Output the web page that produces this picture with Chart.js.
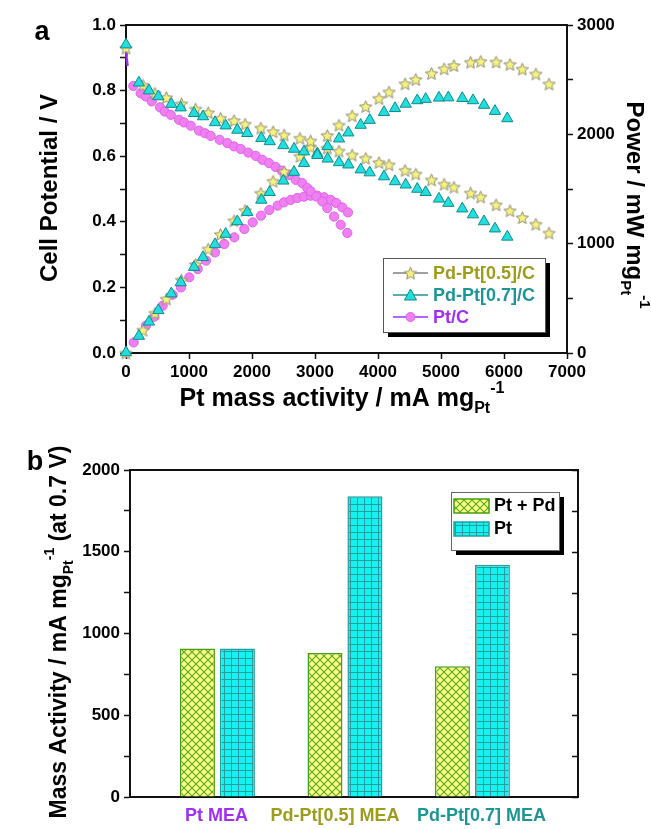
<!DOCTYPE html>
<html>
<head>
<meta charset="utf-8">
<script src="https://cdn.jsdelivr.net/npm/chart.js@4.4.0/dist/chart.umd.min.js"></script>
<style>
  body { margin: 0; background: #fff; }
  #wrap { position: relative; width: 651px; height: 829px; }
  #chartA { position: absolute; left: 0; top: 0; }
  #chartB { position: absolute; left: 0; top: 420px; }
</style>
</head>
<body>
<div id="wrap">
  <canvas id="chartA" width="651" height="420"></canvas>
  <canvas id="chartB" width="651" height="409"></canvas>
</div>
<script>
// ---- panel a : polarization + power curves ----
const seriesNames = ['Pd-Pt[0.5]/C', 'Pd-Pt[0.7]/C', 'Pt/C'];

const pd05Current = [0, 270, 460, 640, 880, 1105, 1305, 1500, 1715, 1890, 2140, 2335, 2510, 2760, 2930, 3195, 3380, 3590, 3805, 4015, 4175, 4430, 4600, 4850, 5050, 5205, 5470, 5630, 5875, 6095, 6290, 6505, 6715];
const pd05Potential = [0.93, 0.817, 0.792, 0.779, 0.760, 0.744, 0.733, 0.716, 0.709, 0.698, 0.686, 0.675, 0.665, 0.655, 0.647, 0.625, 0.616, 0.604, 0.594, 0.581, 0.574, 0.557, 0.546, 0.528, 0.515, 0.506, 0.488, 0.476, 0.452, 0.434, 0.413, 0.393, 0.366];
const pd05Power = [0, 210, 365, 495, 668, 810, 952, 1085, 1210, 1305, 1462, 1572, 1660, 1800, 1885, 1990, 2085, 2170, 2255, 2330, 2388, 2463, 2503, 2558, 2600, 2630, 2660, 2668, 2662, 2641, 2598, 2553, 2461];

const pd07Current = [0, 205, 365, 513, 719, 868, 1079, 1222, 1413, 1582, 1767, 1925, 2148, 2281, 2497, 2667, 2825, 3037, 3200, 3381, 3529, 3725, 3868, 4095, 4270, 4440, 4624, 4757, 4968, 5116, 5338, 5508, 5683, 5857, 6052];
const pd07Potential = [0.94, 0.824, 0.800, 0.782, 0.759, 0.748, 0.731, 0.721, 0.703, 0.693, 0.680, 0.670, 0.655, 0.645, 0.633, 0.622, 0.614, 0.603, 0.592, 0.581, 0.574, 0.559, 0.550, 0.538, 0.523, 0.513, 0.500, 0.490, 0.470, 0.457, 0.440, 0.422, 0.401, 0.379, 0.354];
const pd07Power = [5, 155, 285, 390, 543, 645, 785, 875, 993, 1088, 1203, 1288, 1400, 1470, 1575, 1655, 1735, 1825, 1890, 1960, 2015, 2085, 2130, 2202, 2238, 2278, 2310, 2322, 2334, 2336, 2330, 2310, 2268, 2212, 2145];

const ptCurrent = [0, 10, 25, 116, 233, 313, 408, 540, 614, 710, 841, 921, 1027, 1159, 1254, 1344, 1487, 1608, 1714, 1821, 1941, 2059, 2163, 2270, 2376, 2471, 2587, 2694, 2798, 2878, 2932, 3021, 3116, 3195, 3302, 3408, 3513];
const ptPotential = [0.93, 0.90, 0.875, 0.814, 0.792, 0.782, 0.767, 0.749, 0.736, 0.726, 0.711, 0.703, 0.693, 0.678, 0.670, 0.662, 0.650, 0.640, 0.630, 0.622, 0.611, 0.601, 0.589, 0.579, 0.567, 0.556, 0.543, 0.528, 0.518, 0.503, 0.493, 0.477, 0.462, 0.442, 0.416, 0.391, 0.366];
const ptPowerCurrent = [122, 317, 450, 582, 741, 873, 1005, 1138, 1270, 1413, 1560, 1719, 1878, 2011, 2143, 2275, 2408, 2508, 2614, 2719, 2825, 2932, 3037, 3143, 3249, 3338, 3433, 3524];
const ptPower = [97, 250, 332, 433, 533, 600, 692, 768, 845, 920, 997, 1058, 1134, 1195, 1256, 1308, 1348, 1378, 1400, 1418, 1430, 1439, 1439, 1424, 1400, 1372, 1332, 1286];

// ---- panel b : mass activity at 0.7 V ----
const meaLabels = ['Pt MEA', 'Pd-Pt[0.5] MEA', 'Pd-Pt[0.7] MEA'];
const barNames = ['Pt + Pd', 'Pt'];
const ptPdActivity = [908, 880, 799];
const ptActivity = [908, 1840, 1421];

const FONT = '"Liberation Sans", Arial, sans-serif';
const OLIVE = '#9c9c1e', TEAL = '#1f9494', PURPLE = '#a030f0';
const meaColors = [PURPLE, OLIVE, TEAL];
const meaLabelShift = [-1, -10, 9];   // labels were hand placed in the original

function xy(xs, ys) { return xs.map((x, i) => ({ x: x, y: ys[i] })); }

function starImage(size, fill, stroke) {
  const c = document.createElement('canvas');
  c.width = size; c.height = size;
  const g = c.getContext('2d');
  const cx = size / 2, cy = size / 2 + 0.7, R = size / 2 - 1, r = R * 0.45;
  g.beginPath();
  for (let i = 0; i < 10; i++) {
    const a = -Math.PI / 2 + i * Math.PI / 5;
    const rr = i % 2 ? r : R;
    g.lineTo(cx + rr * Math.cos(a), cy + rr * Math.sin(a));
  }
  g.closePath();
  g.fillStyle = fill; g.fill();
  g.strokeStyle = stroke; g.lineWidth = 1; g.stroke();
  return c;
}
const star = starImage(15, '#f7f27c', '#8c8c78');

function richWidth(ctx, parts, size) {
  let w = 0;
  parts.forEach(p => {
    ctx.font = 'bold ' + (p[1] ? Math.round(size * 0.62) : size) + 'px ' + FONT;
    w += ctx.measureText(p[0]).width;
  });
  return w;
}
function drawRich(ctx, parts, cx, cy, size, angle, color) {
  ctx.save();
  ctx.translate(cx, cy);
  ctx.rotate(angle);
  ctx.fillStyle = color || '#000';
  ctx.textBaseline = 'middle';
  ctx.textAlign = 'left';
  let x = -richWidth(ctx, parts, size) / 2;
  parts.forEach(p => {
    const s = p[1] ? Math.round(size * 0.62) : size;
    ctx.font = 'bold ' + s + 'px ' + FONT;
    const dy = p[1] === 'sub' ? size * 0.38 : p[1] === 'sup' ? -size * 0.42 : 0;
    ctx.fillText(p[0], x, dy);
    x += ctx.measureText(p[0]).width;
  });
  ctx.restore();
}

const tickFont = { family: FONT, size: 17, weight: 'bold' };

const decorA = {
  id: 'decorA',
  afterDraw(chart) {
    const ctx = chart.ctx, a = chart.chartArea;
    ctx.save();
    ctx.strokeStyle = '#111'; ctx.lineWidth = 2;
    ctx.beginPath(); ctx.moveTo(a.left - 1, a.top); ctx.lineTo(a.right + 1, a.top); ctx.stroke();
    ctx.fillStyle = '#000';
    ctx.font = 'bold 27px ' + FONT;
    ctx.textAlign = 'center'; ctx.textBaseline = 'middle';
    ctx.fillText('a', 42, 33);
    ctx.restore();

    drawRich(ctx, [['Cell Potential / V']], 50, 188, 24, -Math.PI / 2);
    drawRich(ctx, [['Power / mW mg'], ['Pt', 'sub'], ['-1', 'sup']], 634, 205, 24, Math.PI / 2);
    drawRich(ctx, [['Pt mass activity / mA mg'], ['Pt', 'sub'], ['-1', 'sup']], 342, 399, 25, 0);

    // legend box with shadow
    const bx = 383, by = 258, bw = 162, bh = 74;
    ctx.save();
    ctx.fillStyle = '#000';
    ctx.fillRect(bx + 5, by + 5, bw, bh);
    ctx.fillStyle = '#fff';
    ctx.fillRect(bx, by, bw, bh);
    ctx.strokeStyle = '#555'; ctx.lineWidth = 1;
    ctx.strokeRect(bx + 0.5, by + 0.5, bw, bh);
    const rows = [
      { color: OLIVE, line: '#808080', y: 273 },
      { color: TEAL, line: '#1f9494', y: 295 },
      { color: PURPLE, line: '#a030f0', y: 317 }
    ];
    rows.forEach((r, i) => {
      ctx.strokeStyle = r.line; ctx.lineWidth = 1.5;
      ctx.beginPath(); ctx.moveTo(393, r.y); ctx.lineTo(428, r.y); ctx.stroke();
      if (i === 0) {
        ctx.drawImage(star, 410.5 - 7.5, r.y - 7.5);
      } else if (i === 1) {
        ctx.beginPath();
        ctx.moveTo(410.5, r.y - 6); ctx.lineTo(416.5, r.y + 5); ctx.lineTo(404.5, r.y + 5); ctx.closePath();
        ctx.fillStyle = '#22dede'; ctx.fill(); ctx.strokeStyle = '#128a8a'; ctx.lineWidth = 1; ctx.stroke();
      } else {
        ctx.beginPath(); ctx.arc(410.5, r.y, 4.5, 0, Math.PI * 2);
        ctx.fillStyle = '#f080f0'; ctx.fill(); ctx.strokeStyle = '#dc64ec'; ctx.lineWidth = 1; ctx.stroke();
      }
      ctx.fillStyle = r.color;
      ctx.font = 'bold 18px ' + FONT;
      ctx.textAlign = 'left'; ctx.textBaseline = 'middle';
      ctx.fillText(seriesNames[i], 433, r.y + 1);
    });
    ctx.restore();
  }
};

const starStyle = { pointStyle: star, pointRadius: 7, showLine: false, clip: false };
const triStyle = { pointStyle: 'triangle', pointRadius: 6.5, backgroundColor: '#22dede', borderColor: '#128a8a', pointBorderWidth: 1, showLine: false, clip: false };
const circStyle = { pointStyle: 'circle', pointRadius: 4.6, backgroundColor: '#f080f0', borderColor: '#dc64ec', pointBorderWidth: 1, clip: false };

new Chart(document.getElementById('chartA'), {
  type: 'scatter',
  data: {
    datasets: [
      Object.assign({ label: seriesNames[1], data: xy(pd07Current, pd07Potential), yAxisID: 'y' }, triStyle),
      Object.assign({ label: seriesNames[1], data: xy(pd07Current, pd07Power), yAxisID: 'y1' }, triStyle),
      Object.assign({ label: seriesNames[0], data: xy(pd05Current, pd05Potential), yAxisID: 'y' }, starStyle),
      Object.assign({ label: seriesNames[0], data: xy(pd05Current, pd05Power), yAxisID: 'y1' }, starStyle),
      Object.assign({
        label: seriesNames[2], data: xy(ptCurrent, ptPotential), yAxisID: 'y',
        showLine: true, borderWidth: 2.5,
        segment: { borderColor: c => c.p0DataIndex < 2 ? '#9a30e8' : 'rgba(0,0,0,0)' },
        pointRadius: c => c.dataIndex < 3 ? 0 : 4.6
      }, { pointStyle: 'circle', backgroundColor: '#f080f0', borderColor: '#dc64ec', pointBorderWidth: 1, clip: false }),
      Object.assign({ label: seriesNames[2], data: xy(ptPowerCurrent, ptPower), yAxisID: 'y1', showLine: false }, circStyle)
    ]
  },
  options: {
    responsive: false,
    animation: false,
    layout: { padding: { top: 25, left: 0, right: 0, bottom: 0 } },
    plugins: { legend: { display: false }, tooltip: { enabled: false } },
    scales: {
      x: {
        type: 'linear', min: 0, max: 7000,
        ticks: { stepSize: 1000, font: tickFont, color: '#000', padding: 3, maxRotation: 0, autoSkip: false, callback: v => String(v) },
        grid: { drawOnChartArea: false, tickLength: 6, tickColor: '#111', tickWidth: 1.5 },
        border: { color: '#111', width: 2 },
        afterFit: s => { s.height = 67; }
      },
      y: {
        position: 'left', min: 0, max: 1,
        ticks: {
          stepSize: 0.1, font: tickFont, color: '#000', padding: 4, autoSkip: false,
          callback: v => Math.round(v * 10) % 2 === 0 ? v.toFixed(1) : ''
        },
        grid: { drawOnChartArea: false, tickLength: 6, tickColor: '#111', tickWidth: 1.5 },
        border: { color: '#111', width: 2 },
        afterFit: s => { s.width = 126; }
      },
      y1: {
        position: 'right', min: 0, max: 3000,
        ticks: {
          stepSize: 500, font: tickFont, color: '#000', padding: 4, autoSkip: false,
          callback: v => v % 1000 === 0 ? String(v) : ''
        },
        grid: { drawOnChartArea: false, tickLength: 6, tickColor: '#111', tickWidth: 1.5 },
        border: { color: '#111', width: 2 },
        afterFit: s => { s.width = 84; }
      }
    }
  },
  plugins: [decorA]
});

// ---- hatch fills for panel b ----
function crossPattern() {
  const c = document.createElement('canvas');
  c.width = 8; c.height = 8;
  const g = c.getContext('2d');
  g.fillStyle = '#fafa88'; g.fillRect(0, 0, 8, 8);
  g.strokeStyle = '#5aa81e'; g.lineWidth = 1.1;
  g.beginPath();
  g.moveTo(-1, -1); g.lineTo(9, 9);
  g.moveTo(9, -1); g.lineTo(-1, 9);
  g.stroke();
  return g.createPattern(c, 'repeat');
}
function gridPattern() {
  const c = document.createElement('canvas');
  c.width = 7; c.height = 7;
  const g = c.getContext('2d');
  g.fillStyle = '#14f2f2'; g.fillRect(0, 0, 7, 7);
  g.fillStyle = '#2a9c9c';
  g.fillRect(0, 0, 7, 1);
  g.fillRect(0, 0, 1, 7);
  return g.createPattern(c, 'repeat');
}
const fillPtPd = crossPattern();
const fillPt = gridPattern();
const barBorders = ['#4c9c12', '#1ea0a0'];

const decorB = {
  id: 'decorB',
  afterDraw(chart) {
    const ctx = chart.ctx, a = chart.chartArea, ys = chart.scales.y, xs = chart.scales.x;
    ctx.save();
    ctx.strokeStyle = '#111'; ctx.lineWidth = 2;
    ctx.beginPath();
    ctx.moveTo(a.left - 1, a.top); ctx.lineTo(a.right, a.top); ctx.lineTo(a.right, a.bottom + 1);
    ctx.stroke();
    // inward ticks on the right axis
    ctx.lineWidth = 1.5;
    ys.ticks.forEach(t => {
      const py = Math.round(ys.getPixelForValue(t.value)) + 0.5;
      ctx.beginPath(); ctx.moveTo(a.right, py); ctx.lineTo(a.right - 6, py); ctx.stroke();
    });
    ctx.fillStyle = '#000';
    ctx.font = 'bold 27px ' + FONT;
    ctx.textAlign = 'center'; ctx.textBaseline = 'middle';
    ctx.fillText('b', 35, 43);
    // category labels
    ctx.font = 'bold 18px ' + FONT;
    meaLabels.forEach((m, i) => {
      ctx.fillStyle = meaColors[i];
      ctx.fillText(m, xs.getPixelForValue(i + 1) + meaLabelShift[i], a.bottom + 19);
    });
    ctx.restore();

    drawRich(ctx, [['Mass Activity / mA mg'], ['Pt', 'sub'], ['-1', 'sup'], [' (at 0.7 V)']], 60, 212, 23, -Math.PI / 2);

    // legend
    const bx = 451, by = 72, bw = 108, bh = 58;
    ctx.save();
    ctx.fillStyle = '#000';
    ctx.fillRect(bx + 5, by + 5, bw, bh);
    ctx.fillStyle = '#fff';
    ctx.fillRect(bx, by, bw, bh);
    ctx.strokeStyle = '#666'; ctx.lineWidth = 1;
    ctx.strokeRect(bx + 0.5, by + 0.5, bw, bh);
    const fills = [fillPtPd, fillPt];
    [86, 109].forEach((ry, i) => {
      ctx.fillStyle = fills[i];
      ctx.fillRect(454, ry - 7, 35, 14);
      ctx.strokeStyle = barBorders[i]; ctx.lineWidth = 1.5;
      ctx.strokeRect(454, ry - 7, 35, 14);
      ctx.fillStyle = '#000';
      ctx.font = 'bold 18px ' + FONT;
      ctx.textAlign = 'left'; ctx.textBaseline = 'middle';
      ctx.fillText(barNames[i], 494, ry);
    });
    ctx.restore();
  }
};

new Chart(document.getElementById('chartB'), {
  type: 'bar',
  data: {
    datasets: [
      { label: barNames[0], data: xy([1, 2, 3], ptPdActivity), backgroundColor: fillPtPd, borderColor: barBorders[0], borderWidth: 1.5, categoryPercentage: 0.627, barPercentage: 0.875 },
      { label: barNames[1], data: xy([1, 2, 3], ptActivity), backgroundColor: fillPt, borderColor: barBorders[1], borderWidth: 1.5, categoryPercentage: 0.627, barPercentage: 0.875 }
    ]
  },
  options: {
    responsive: false,
    animation: false,
    layout: { padding: { top: 50, left: 0, right: 73, bottom: 0 } },
    plugins: { legend: { display: false }, tooltip: { enabled: false } },
    scales: {
      x: {
        type: 'linear', min: 0.314, max: 3.828, offset: false,
        afterBuildTicks: s => { s.ticks = meaLabels.map((m, i) => ({ value: i + 1 })); },
        ticks: { display: false },
        grid: { drawOnChartArea: false, drawTicks: false, offset: false },
        border: { color: '#111', width: 2 },
        afterFit: s => { s.height = 32; }
      },
      y: {
        min: 0, max: 2000,
        ticks: {
          stepSize: 250, font: tickFont, color: '#000', padding: 4, autoSkip: false,
          callback: v => v % 500 === 0 ? String(v) : ''
        },
        grid: { drawOnChartArea: false, tickLength: 6, tickColor: '#111', tickWidth: 1.5 },
        border: { color: '#111', width: 2 },
        afterFit: s => { s.width = 130; }
      }
    }
  },
  plugins: [decorB]
});
</script>
</body>
</html>
